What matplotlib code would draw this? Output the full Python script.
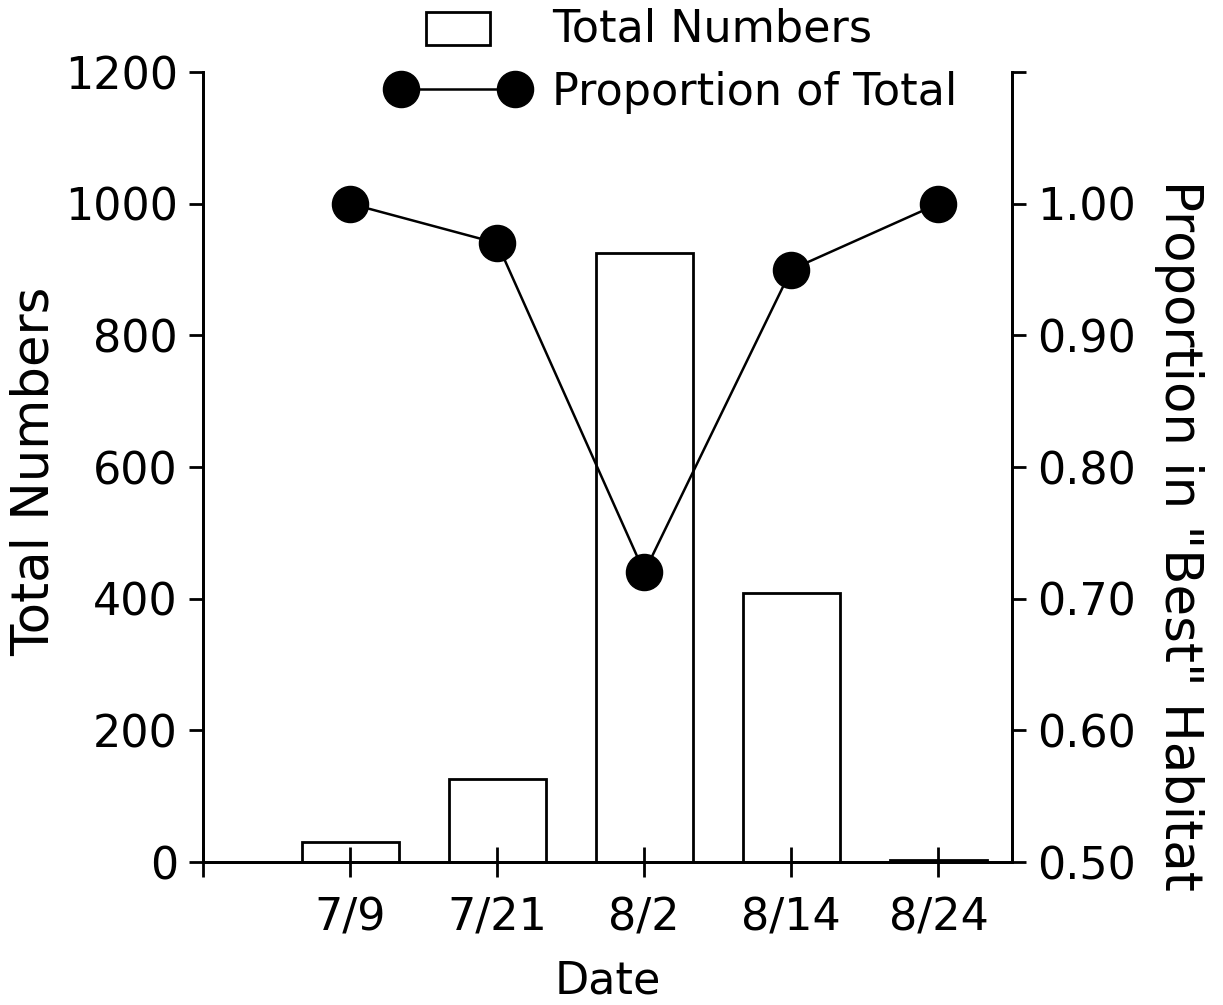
import numpy as np
import matplotlib
matplotlib.use('Agg')
import matplotlib.pyplot as plt
from matplotlib.patches import Rectangle
from matplotlib.lines import Line2D
from matplotlib.legend_handler import HandlerPatch

dates = ['7/9', '7/21', '8/2', '8/14', '8/24']
total_numbers = [30, 126, 925, 409, 3]
proportion = [1.00, 0.97, 0.72, 0.95, 1.00]

plt.rcParams['font.family'] = 'DejaVu Sans'
plt.rcParams['font.size'] = 32

fig = plt.figure(figsize=(12.23, 10.05), dpi=100)
W, H = 1223, 1005
ax = fig.add_axes([203 / W, 1 - 862 / H, (1012 - 203) / W, (862 - 72) / H])
ax2 = ax.twinx()
ax.set_axisbelow(False)

x = np.arange(1, len(dates) + 1)
ax.bar(x, total_numbers, width=0.66, facecolor='white', edgecolor='black',
       linewidth=2, zorder=1)
ax2.plot(x, proportion, color='black', lw=1.8, marker='o', markersize=26,
         markerfacecolor='black', markeredgecolor='black')

ax.set_xlim(0, 5.5)
ax.set_ylim(0, 1200)
ax2.set_ylim(0.5, 1.1)
ax.set_xticks(np.arange(0, 6))
ax.set_xticklabels([''] + dates)
ax.set_yticks(np.arange(0, 1201, 200))
ax2.set_yticks(np.arange(0.5, 1.11, 0.1))
ax2.set_yticklabels(['%.2f' % v for v in np.arange(0.5, 1.01, 0.1)] + [''])

for a in (ax, ax2):
    a.spines['top'].set_visible(False)
    for s in a.spines.values():
        s.set_linewidth(2)
ax.tick_params(axis='x', direction='inout', length=22, width=2, pad=14)
ax.tick_params(axis='y', direction='out', length=10, width=2, pad=8)
ax2.tick_params(axis='y', direction='out', length=10, width=2, pad=8)

ax.set_xlabel('Date', labelpad=14)
ax.set_ylabel('Total Numbers', fontsize=37, va='center', ha='center',
              rotation_mode='anchor')
ax.yaxis.set_label_coords(-0.208, 0.494)
ax2.set_ylabel('Proportion in "Best" Habitat', rotation=-90, fontsize=37,
               va='center', ha='center', rotation_mode='anchor')
ax2.yaxis.set_label_coords(1.207, 0.414)


def small_box(legend, orig_handle, xdescent, ydescent, width, height, fontsize):
    w = 0.46 * width
    return Rectangle((xdescent + (width - w) / 2, ydescent - 0.1 * height),
                     w, height * 1.05)


bar_handle = Rectangle((0, 0), 1, 1, facecolor='white', edgecolor='black', linewidth=2)
line_handle = Line2D([], [], color='black', lw=1.8, marker='o', markersize=26,
                     markerfacecolor='black')
fig.legend([bar_handle, line_handle], ['Total Numbers', 'Proportion of Total'],
           loc='upper left', bbox_to_anchor=(348 / W, 1.032), frameon=False,
           numpoints=2, handlelength=3.15, handletextpad=0.55, labelspacing=0.45,
           handler_map={Rectangle: HandlerPatch(patch_func=small_box)})

fig.savefig('out.png', dpi=100)
